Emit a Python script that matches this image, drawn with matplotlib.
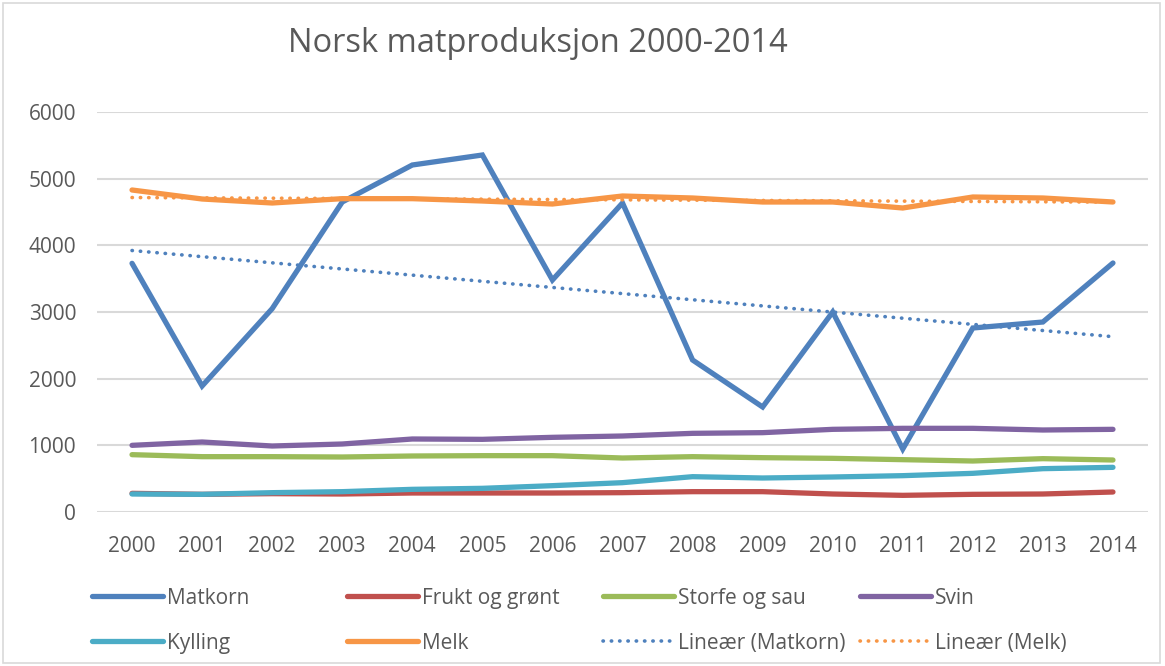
import numpy as np
import matplotlib
matplotlib.use("Agg")
import matplotlib.pyplot as plt
from matplotlib.lines import Line2D
from matplotlib.patches import Rectangle

plt.rcParams['font.family'] = ['Open Sans', 'DejaVu Sans']

years = [2000, 2001, 2002, 2003, 2004, 2005, 2006, 2007, 2008, 2009, 2010, 2011, 2012, 2013, 2014]
matkorn = [3730, 1890, 3050, 4650, 5205, 5355, 3480, 4635, 2280, 1575, 3000, 945, 2760, 2850, 3735]
frukt = [280, 265, 275, 270, 285, 285, 285, 290, 305, 305, 270, 250, 265, 270, 300]
storfe = [860, 830, 830, 825, 840, 845, 845, 810, 830, 815, 805, 785, 765, 800, 780]
svin = [1000, 1050, 990, 1020, 1095, 1090, 1120, 1140, 1180, 1190, 1240, 1255, 1255, 1230, 1240]
kylling = [270, 265, 290, 305, 340, 355, 395, 440, 530, 510, 525, 545, 580, 650, 670]
melk = [4830, 4695, 4635, 4700, 4700, 4665, 4620, 4740, 4710, 4650, 4650, 4560, 4725, 4710, 4650]
yticks = [0, 1000, 2000, 3000, 4000, 5000, 6000]

title = "Norsk matproduksjon 2000-2014"
series = [
    ("Matkorn", matkorn, "#4F81BD"),
    ("Frukt og grønt", frukt, "#C0504D"),
    ("Storfe og sau", storfe, "#9BBB59"),
    ("Svin", svin, "#8064A2"),
    ("Kylling", kylling, "#4BACC6"),
    ("Melk", melk, "#F79646"),
]
text_color = "#595959"
grid_color = "#D9D9D9"

fig = plt.figure(figsize=(11.65, 6.66), dpi=100)
ax = fig.add_axes([97/1165, 1 - 512/666, (1148-97)/1165, (512-112)/666])

x = np.arange(len(years))
for name, vals, col in series:
    ax.plot(x, vals, color=col, lw=3.8, solid_capstyle='round', solid_joinstyle='miter', zorder=3)

dot_style = (0, (0.1, 2.2))
for name, vals, col in [("Matkorn", matkorn, "#4F81BD"), ("Melk", melk, "#F79646")]:
    p = np.polyfit(x, vals, 1)
    ax.plot(x, np.polyval(p, x), color=col, lw=2.6, linestyle=dot_style,
            dash_capstyle='round', zorder=4)

ax.set_xlim(-0.5, len(years) - 0.5)
ax.set_ylim(0, 6000)
ax.set_yticks(yticks)
ax.set_yticklabels([str(v) for v in yticks])
ax.set_xticks(x)
ax.set_xticklabels([str(y) for y in years])
ax.tick_params(axis='both', length=0, labelsize=15, colors=text_color)
ax.tick_params(axis='y', pad=15)
ax.tick_params(axis='x', pad=17)
ax.grid(axis='y', color=grid_color, lw=1.5, zorder=0)
for s in ax.spines.values():
    s.set_visible(False)

fig.text(538/1165, 1 - 44/666, title, ha='center', va='center', fontsize=23.5, color=text_color)

leg_entries = [
    ("Matkorn", "#4F81BD", '-'), ("Frukt og grønt", "#C0504D", '-'),
    ("Storfe og sau", "#9BBB59", '-'), ("Svin", "#8064A2", '-'),
    ("Kylling", "#4BACC6", '-'), ("Melk", "#F79646", '-'),
    ("Lineær (Matkorn)", "#4F81BD", ':'), ("Lineær (Melk)", "#F79646", ':'),
]
col_x = [92, 347, 603, 860]
row_line_y = [596, 641]
row_base_y = [604, 649]
for i, (lab, col, ls) in enumerate(leg_entries):
    cx = col_x[i % 4]
    yf = 1 - row_line_y[i // 4] / 666
    yb = 1 - row_base_y[i // 4] / 666
    if ls == '-':
        ln = Line2D([cx/1165, (cx+71)/1165], [yf, yf], transform=fig.transFigure,
                    color=col, lw=3.8, solid_capstyle='round')
    else:
        ln = Line2D([cx/1165, (cx+71)/1165], [yf, yf], transform=fig.transFigure,
                    color=col, lw=2.6, linestyle=dot_style, dash_capstyle='round')
    fig.add_artist(ln)
    fig.text((cx+75)/1165, yb, lab, ha='left', va='baseline', fontsize=15, color=text_color)

fig.add_artist(Rectangle((3/1165, 3/666), 1157/1165, 660/666, transform=fig.transFigure,
                         fill=False, edgecolor="#D9D9D9", lw=1.2))

fig.savefig("out.png", dpi=100, facecolor='white')
